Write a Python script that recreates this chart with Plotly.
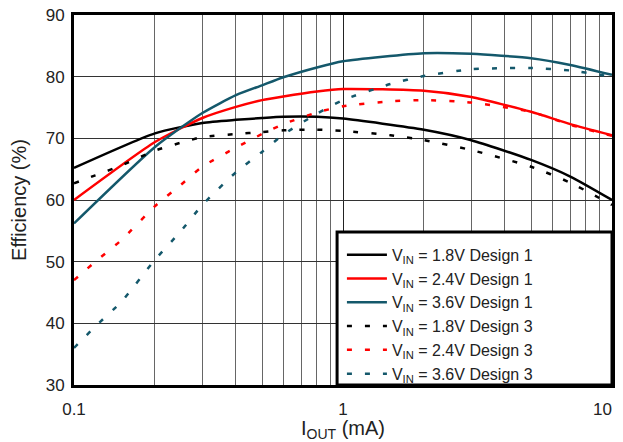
import plotly.graph_objects as go

# Design 1 (solid)
x_d1 = [0.1, 0.2, 0.3, 0.4, 0.5, 0.6, 0.8, 1, 2, 3, 5, 7, 10]
eff_18_d1 = [65.2, 70.8, 72.5, 73.0, 73.3, 73.5, 73.5, 73.2, 71.4, 69.7, 66.5, 63.8, 60.0]
eff_24_d1 = [60.0, 69.4, 73.3, 75.1, 76.2, 76.8, 77.6, 78.0, 77.7, 76.7, 74.3, 72.3, 70.5]
eff_36_d1 = [56.2, 68.6, 74.1, 77.0, 78.6, 79.9, 81.5, 82.5, 83.8, 83.7, 83.0, 81.9, 80.3]

# Design 3 (dashed)
x_d3 = [0.1, 0.12, 0.15, 0.2, 0.25, 0.3, 0.4, 0.5, 0.6, 0.8, 1, 1.5, 2, 3, 5, 7, 10]
eff_18_d3 = [62.7, 64.0, 65.6, 68.0, 69.3, 70.2, 70.7, 71.0, 71.3, 71.4, 71.2, 70.5, 69.7, 68.1, 65.4, 62.8, 59.2]
eff_24_d3 = [47.0, 50.0, 53.5, 59.0, 62.5, 65.4, 68.5, 70.7, 72.3, 74.2, 75.2, 76.0, 76.2, 75.8, 74.3, 72.2, 70.4]
eff_36_d3 = [36.0, 39.5, 43.5, 50.3, 55.0, 59.2, 64.5, 67.8, 70.6, 74.0, 76.2, 78.8, 80.1, 81.2, 81.4, 81.0, 80.0]

x_ticks = [0.1, 1, 10]
x_ticktext = ["0.1", "1", "10&nbsp;&nbsp;&nbsp;&nbsp;"]

labels = [
    "V<sub>IN</sub> = 1.8V Design 1",
    "V<sub>IN</sub> = 2.4V Design 1",
    "V<sub>IN</sub> = 3.6V Design 1",
    "V<sub>IN</sub> = 1.8V Design 3",
    "V<sub>IN</sub> = 2.4V Design 3",
    "V<sub>IN</sub> = 3.6V Design 3",
]
colors = ["#000000", "#ff0000", "#14586b"]

fig = go.Figure()
for ys, c, lab in zip([eff_18_d1, eff_24_d1, eff_36_d1], colors, labels[:3]):
    fig.add_trace(go.Scatter(x=x_d1, y=ys, mode="lines", name=lab,
                             line=dict(color=c, width=2.5, shape="spline", smoothing=0.6)))
for ys, c, lab in zip([eff_18_d3, eff_24_d3, eff_36_d3], colors, labels[3:]):
    fig.add_trace(go.Scatter(x=x_d3, y=ys, mode="lines", name=lab,
                             line=dict(color=c, width=2.5, dash="5px,13px", shape="spline", smoothing=0.6)))

# legend frame (box behind the legend)
fig.add_shape(type="rect", xref="paper", yref="paper", x0=0.489, x1=1, y0=0, y1=0.4135,
              line=dict(color="black", width=3), fillcolor="white", layer="above")

fig.update_layout(
    width=615, height=434,
    margin=dict(l=66, r=11, t=7, b=57),
    paper_bgcolor="white", plot_bgcolor="white",
    font=dict(family="Liberation Sans, Arial", size=17, color="#222"),
    showlegend=True,
    legend=dict(x=0.498, y=0.398, xanchor="left", yanchor="top",
                bgcolor="rgba(0,0,0,0)", borderwidth=0,
                font=dict(size=16, color="#222"), tracegroupgap=0,
                itemwidth=40),
    xaxis=dict(type="log", range=[-1, 1], tickvals=x_ticks, ticktext=x_ticktext,
               showgrid=True, gridcolor="#222", gridwidth=1,
               minor=dict(dtick="D1", showgrid=True, gridcolor="#666", gridwidth=1.3, ticks=""),
               showline=True, linecolor="black", linewidth=3, mirror=True, ticks="",
               ticklabelstandoff=7, automargin=False, ticklabeloverflow="allow",
               title=dict(text="I<sub>OUT</sub> (mA)", standoff=7), zeroline=False),
    yaxis=dict(range=[30, 90], dtick=10, showgrid=True, gridcolor="#333", gridwidth=1,
               showline=True, linecolor="black", linewidth=3, mirror=True, ticks="",
               ticklabelstandoff=3, automargin=False, ticklabeloverflow="allow",
               title=dict(text="Efficiency (%)", standoff=16), zeroline=False),
)

fig.write_html("out.html")
